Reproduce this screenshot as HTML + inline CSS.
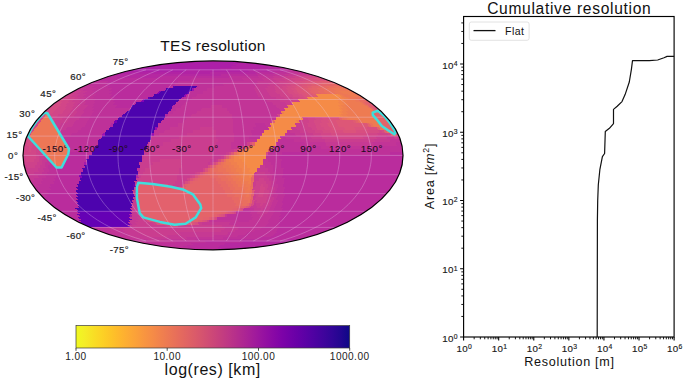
<!DOCTYPE html>
<html><head><meta charset="utf-8"><title>TES resolution</title>
<style>html,body{margin:0;padding:0;background:#fff}body{width:685px;height:381px;overflow:hidden;font-family:"Liberation Sans",sans-serif}svg{display:block}</style>
</head><body>
<svg width="685" height="381" viewBox="0 0 685 381" font-family="'Liberation Sans', sans-serif">
<defs><clipPath id="ec"><ellipse cx="213" cy="155.4" rx="190" ry="94.5"/></clipPath>
<linearGradient id="cb" x1="0" x2="1" y1="0" y2="0"><stop offset="0.0000" stop-color="#f0f921"/><stop offset="0.0312" stop-color="#f4ed27"/><stop offset="0.0625" stop-color="#f8df25"/><stop offset="0.0938" stop-color="#fcd225"/><stop offset="0.1250" stop-color="#fdc527"/><stop offset="0.1562" stop-color="#feb82c"/><stop offset="0.1875" stop-color="#fdac33"/><stop offset="0.2188" stop-color="#fba139"/><stop offset="0.2500" stop-color="#f89540"/><stop offset="0.2812" stop-color="#f58b47"/><stop offset="0.3125" stop-color="#f0804e"/><stop offset="0.3438" stop-color="#eb7655"/><stop offset="0.3750" stop-color="#e66c5c"/><stop offset="0.4062" stop-color="#e06363"/><stop offset="0.4375" stop-color="#da5a6a"/><stop offset="0.4688" stop-color="#d35171"/><stop offset="0.5000" stop-color="#cc4778"/><stop offset="0.5312" stop-color="#c43e7f"/><stop offset="0.5625" stop-color="#bc3587"/><stop offset="0.5938" stop-color="#b32c8e"/><stop offset="0.6250" stop-color="#aa2395"/><stop offset="0.6562" stop-color="#a01a9c"/><stop offset="0.6875" stop-color="#9511a1"/><stop offset="0.7188" stop-color="#8a09a5"/><stop offset="0.7500" stop-color="#7e03a8"/><stop offset="0.7812" stop-color="#7201a8"/><stop offset="0.8125" stop-color="#6600a7"/><stop offset="0.8438" stop-color="#5901a5"/><stop offset="0.8750" stop-color="#4c02a1"/><stop offset="0.9062" stop-color="#3f049c"/><stop offset="0.9375" stop-color="#310597"/><stop offset="0.9688" stop-color="#220690"/><stop offset="1.0000" stop-color="#0d0887"/></linearGradient>
</defs>
<rect width="685" height="381" fill="#fff"/>
<ellipse cx="213" cy="155.4" rx="190" ry="94.5" fill="#b82a9f"/>
<g fill="none" stroke-width="1" shape-rendering="crispEdges" transform="translate(0,0.5)" clip-path="url(#ec)">
<path stroke="#4d03ae" d="M175 86h22M174 87h22M166 88h26M166 89h26M165 90h27M161 91h27M160 92h27M159 93h28M154 94h31M154 95h30M153 96h31M150 97h32M150 98h31M145 99h34M144 100h35M144 101h34M136 102h40M136 103h40M135 104h40M132 105h41M132 106h40M131 107h41M131 108h38M130 109h39M129 110h40M127 111h42M126 112h42M125 113h43M125 114h40M124 115h41M124 116h41M119 117h43M118 118h44M118 119h44M117 120h45M117 121h44M117 122h44M114 123h44M113 124h45M113 125h45M113 126h45M110 127h45M109 128h46M109 129h46M106 130h48M106 131h48M105 132h49M105 133h46M105 134h46M105 135h46M102 136h49M102 137h49M101 138h50M99 139h52M98 140h52M98 141h52M98 142h50M98 143h50M98 144h49M98 145h49M95 146h52M95 147h52M95 148h52M94 149h51M94 150h50M94 151h50M92 152h52M92 153h52M92 154h52M89 155h53M89 156h53M89 157h53M89 158h53M86 159h56M87 160h55M87 161h55M87 162h52M87 163h52M87 164h52M84 165h56M85 166h55M85 167h55M82 168h55M83 169h54M83 170h54M83 171h55M81 172h57M81 173h57M81 174h57M81 175h55M82 176h54M82 177h54M80 178h56M80 179h56M81 180h56M79 181h55M79 182h56M79 183h56M77 184h56M78 185h55M78 186h55M76 187h58M77 188h57M78 189h56M76 190h56M76 191h57M77 192h56M78 193h55M76 194h55M77 195h55M78 196h54M76 197h57M77 198h56M78 199h56M76 200h56M77 201h55M78 202h55M77 203h54M78 204h54M79 205h53M78 206h53M79 207h53M75 208h55M77 209h54M78 210h54"/>
<path stroke="#5203b0" d="M169 108h3M169 109h2M169 110h2M123 114h2M122 115h2M122 116h2M162 117h3M162 118h2M162 119h2"/>
<path stroke="#5802b2" d="M131 194h3M132 195h2M132 196h3"/>
<path stroke="#5f01b3" d="M173 86h2M173 87h1M188 91h2M187 92h2M187 93h2M133 184h2M133 185h2M133 186h3"/>
<path stroke="#6501b5" d="M148 97h2M148 98h2M77 211h53M78 212h53M80 213h52M77 214h52M79 215h51M80 216h50M78 217h51M79 218h51M81 219h51M79 220h50M81 221h49M79 222h49M81 223h48M83 224h47M86 225h42M88 226h42"/>
<path stroke="#7600b7" d="M115 120h2M114 121h3M114 122h3"/>
<path stroke="#8202b7" d="M143 99h2M142 100h2M141 101h3M79 175h2M79 176h3M80 177h2"/>
<path stroke="#8804b6" d="M159 91h2M158 92h2M157 93h2"/>
<path stroke="#920ab4" d="M185 94h2M184 95h2M184 96h2"/>
<path stroke="#980eb2" d="M155 127h3M155 128h2M155 129h2M151 133h3M151 134h3M151 135h3"/>
<path stroke="#9d13b0" d="M192 88h2M192 89h2M192 90h2M103 133h2M102 134h3M102 135h3"/>
<path stroke="#a81baa" d="M84 162h3M84 163h3M84 164h3M129 214h2M130 215h2M130 216h2"/>
<path stroke="#ac1fa8" d="M192 61h42M178 62h66M169 63h69M161 64h72M154 65h82M149 66h82M143 67h89M138 68h82M134 69h87M130 70h56M126 71h59"/>
<path stroke="#b123a4" d="M244 62h4M238 63h19M233 64h31M236 65h35M231 66h33M232 67h36M220 68h40M221 69h41M186 70h62M185 71h64M122 72h88M118 73h92M182 97h2M181 98h3M136 175h2M136 176h2M136 177h3"/>
<path stroke="#b528a1" d="M264 64h1M271 65h1M264 66h13M268 67h15M260 68h19M262 69h21M248 70h22M249 71h24M210 72h45M210 73h46M115 74h106M112 75h109M120 76h41M117 77h42M165 88h1M164 89h2M163 90h2M165 114h3M165 115h3M165 116h2M111 123h3M111 124h2M110 125h3M110 126h3M288 239h12M284 240h12M243 241h48M242 242h45M225 243h57M224 244h52M220 245h50M219 246h45M218 247h38M218 248h28M219 249h11"/>
<path stroke="#ba2c9d" d="M279 68h9M283 69h9M270 70h15M273 71h15M255 72h18M256 73h19M221 74h36M221 75h37M108 76h12M161 76h68M105 77h12M159 77h70M104 78h88M101 79h90M99 80h91M108 81h70M106 82h72M110 83h65M108 84h67M106 85h68M110 86h61M197 86h2M108 87h63M196 87h2M112 88h53M111 89h53M109 90h54M112 91h47M111 92h47M109 93h48M112 94h42M111 95h43M110 96h43M113 97h35M112 98h36M115 99h28M114 100h28M113 101h28M115 102h21M114 103h22M113 104h22M117 105h15M173 105h2M116 106h16M172 106h3M115 107h16M172 107h2M76 149h8M76 150h8M76 151h8M69 152h17M282 152h26M390 152h13M68 153h18M282 153h26M390 153h13M68 154h18M282 154h26M390 154h13M68 155h21M279 155h124M67 156h22M279 156h124M67 157h22M279 157h124M66 158h23M279 158h124M66 159h20M282 159h121M65 160h22M282 160h121M65 161h22M281 161h122M64 162h20M281 162h121M64 163h20M281 163h121M63 164h21M281 164h121M63 165h21M281 165h121M62 166h23M281 166h121M62 167h23M281 167h120M56 168h26M284 168h117M56 169h27M283 169h118M57 170h26M283 170h118M57 171h26M283 171h117M57 172h24M283 172h117M58 173h23M283 173h116M58 174h23M283 174h116M56 175h23M283 175h116M56 176h23M282 176h116M56 177h24M282 177h116M54 178h26M285 178h112M55 179h25M284 179h113M55 180h26M284 180h112M53 181h26M284 181h112M54 182h25M284 182h111M54 183h25M284 183h110M50 184h27M283 184h111M50 185h28M283 185h110M51 186h27M283 186h109M49 187h27M285 187h107M50 188h27M285 188h106M51 189h27M284 189h106M46 190h30M284 190h105M47 191h29M284 191h105M48 192h29M283 192h105M49 193h29M283 193h104M45 194h31M285 194h101M46 195h31M285 195h100M47 196h31M284 196h100M43 197h33M284 197h99M44 198h33M283 198h99M45 199h33M283 199h98M46 200h30M283 200h97M47 201h30M282 201h97M48 202h30M282 202h96M49 203h28M283 203h94M51 204h27M283 204h92M52 205h27M282 205h92M53 206h25M282 206h91M54 207h25M281 207h91M56 208h19M283 208h87M57 209h20M282 209h87M59 210h19M282 210h85M60 211h17M281 211h85M62 212h16M280 212h84M63 213h17M280 213h83M65 214h12M281 214h80M66 215h13M280 215h80M68 216h12M279 216h79M70 217h8M281 217h75M72 218h7M280 218h74M73 219h8M279 219h74M75 220h4M280 220h71M77 221h4M279 221h70M128 222h1M280 222h67M129 223h2M279 223h66M130 224h2M278 224h65M280 225h60M279 226h59M280 227h56M278 228h55M277 229h54M277 230h51M276 231h50M277 232h46M275 233h45M274 234h43M273 235h41M271 236h40M260 237h47M258 238h45M230 239h58M229 240h55M205 241h38M206 242h36M191 243h34M193 244h31M187 245h33M183 246h36M188 247h30M185 248h33M196 249h23"/>
<path stroke="#be3199" d="M285 70h11M288 71h12M273 72h13M275 73h14M257 74h16M258 75h17M229 76h29M229 77h30M103 78h1M192 78h50M100 79h1M191 79h52M97 80h2M190 80h54M95 81h13M178 81h53M92 82h14M178 82h53M93 83h17M175 83h48M91 84h17M175 84h48M89 85h17M174 85h50M94 86h16M171 86h2M199 86h16M92 87h16M171 87h2M198 87h17M96 88h16M194 88h13M94 89h17M194 89h13M92 90h17M194 90h13M94 91h18M190 91h13M93 92h18M189 92h14M91 93h18M189 93h14M96 94h16M187 94h10M95 95h16M186 95h11M93 96h17M186 96h10M94 97h19M184 97h8M93 98h19M184 98h8M96 99h19M179 99h11M95 100h19M179 100h10M94 101h19M178 101h11M95 102h20M176 102h9M94 103h20M176 103h8M93 104h20M175 104h9M94 105h23M175 105h7M93 106h23M175 106h6M92 107h23M174 107h7M94 108h37M172 108h4M93 109h37M171 109h5M92 110h37M171 110h5M94 111h33M169 111h4M93 112h33M168 112h5M92 113h33M168 113h5M92 114h31M91 115h31M90 116h32M90 117h29M89 118h29M89 119h29M88 120h27M87 121h27M87 122h27M86 123h25M255 123h10M86 124h25M255 124h10M85 125h25M256 125h10M85 126h25M256 126h10M82 127h28M253 127h15M81 128h28M253 128h16M81 129h28M254 129h15M78 130h28M251 130h13M78 131h28M251 131h13M77 132h28M251 132h13M72 133h31M252 133h10M71 134h31M252 134h10M71 135h31M252 135h10M63 136h39M249 136h11M283 136h2M63 137h39M249 137h11M283 137h3M63 138h38M249 138h11M283 138h3M63 139h36M278 139h16M64 140h34M278 140h16M64 141h34M278 141h16M65 142h33M276 142h28M396 142h5M66 143h32M276 143h29M396 143h5M66 144h32M276 144h29M396 144h6M67 145h31M276 145h29M397 145h5M67 146h28M273 146h48M379 146h23M68 147h27M273 147h48M379 147h23M69 148h26M274 148h47M379 148h23M69 149h7M84 149h10M271 149h132M69 150h7M84 150h10M271 150h132M69 151h7M84 151h10M271 151h132M86 152h6M268 152h14M308 152h82M86 153h6M268 153h14M308 153h82M86 154h6M268 154h14M308 154h82M266 155h13M266 156h13M266 157h13M266 158h13M268 159h14M268 160h14M50 161h1M268 161h13M50 162h2M271 162h10M50 163h3M271 163h10M50 164h4M271 164h10M48 165h7M273 165h8M48 166h8M273 166h8M48 167h8M273 167h8M48 168h8M137 168h3M273 168h11M49 169h7M137 169h3M273 169h10M49 170h8M137 170h3M273 170h10M49 171h8M138 171h2M273 171h10M47 172h10M275 172h8M47 173h11M275 173h8M48 174h10M275 174h8M45 175h11M275 175h8M46 176h10M275 176h7M46 177h10M275 177h7M42 178h12M277 178h8M42 179h13M277 179h7M43 180h12M277 180h7M41 181h12M276 181h8M41 182h13M276 182h8M42 183h12M276 183h8M37 184h13M278 184h5M38 185h12M278 185h5M39 186h12M278 186h5M34 187h15M278 187h7M35 188h15M277 188h8M36 189h15M277 189h7M37 190h9M277 190h7M37 191h10M276 191h8M38 192h10M276 192h7M39 193h10M276 193h7M40 194h5M278 194h7M41 195h5M278 195h7M42 196h5M277 196h7M277 197h7M276 198h7M276 199h7M278 200h5M278 201h4M277 202h5M277 203h6M276 204h7M276 205h6M275 206h7M275 207h6M244 208h6M274 208h9M243 209h7M274 209h8M243 210h6M273 210h9M236 211h15M275 211h6M236 212h15M274 212h6M236 213h14M273 213h7M227 214h25M273 214h8M227 215h25M272 215h8M227 216h24M271 216h8M217 217h36M271 217h10M217 218h35M270 218h10M217 219h35M269 219h10M238 220h11M268 220h12M238 221h11M268 221h11M269 222h11M268 223h11M267 224h11M266 225h14M265 226h14M90 227h17M262 227h18M93 228h16M261 228h17M95 229h16M260 229h17M98 230h11M255 230h22M100 231h11M254 231h22M103 232h5M247 232h30M106 233h4M246 233h29M109 234h4M245 234h29M238 235h35M237 236h34M223 237h37M223 238h35M195 239h35M196 240h33M135 241h1M174 241h31M139 242h1M176 242h30M144 243h47M150 244h43M156 245h31M162 246h21M170 247h18M180 248h5"/>
<path stroke="#c23497" d="M286 72h13M289 73h14M273 74h12M275 75h13M258 76h15M259 77h15M242 78h20M243 79h20M244 80h20M231 81h26M231 82h27M90 83h3M223 83h33M87 84h4M223 84h34M85 85h4M224 85h33M85 86h9M215 86h40M83 87h9M215 87h40M86 88h10M207 88h47M84 89h10M207 89h48M83 90h9M207 90h48M87 91h7M203 91h53M85 92h8M203 92h53M83 93h8M203 93h54M86 94h10M197 94h60M84 95h11M197 95h61M83 96h10M196 96h62M86 97h8M192 97h69M84 98h9M192 98h69M87 99h9M190 99h76M86 100h9M189 100h78M85 101h9M189 101h78M86 102h9M185 102h87M85 103h9M184 103h89M84 104h9M184 104h89M88 105h6M182 105h29M222 105h54M87 106h6M181 106h30M222 106h54M86 107h6M181 107h30M222 107h55M85 108h9M176 108h26M227 108h52M84 109h9M176 109h25M227 109h53M83 110h9M176 110h25M227 110h53M84 111h10M173 111h24M229 111h52M84 112h9M173 112h24M229 112h52M83 113h9M173 113h23M230 113h52M82 114h10M168 114h24M232 114h45M81 115h10M168 115h23M232 115h46M81 116h9M167 116h24M232 116h46M80 117h10M165 117h21M232 117h44M79 118h10M164 118h22M232 118h44M79 119h10M164 119h22M233 119h43M76 120h12M162 120h22M233 120h39M75 121h12M161 121h22M233 121h39M74 122h13M161 122h22M233 122h39M74 123h12M158 123h20M233 123h22M265 123h5M73 124h13M158 124h20M233 124h22M265 124h5M73 125h12M158 125h20M233 125h23M266 125h5M72 126h13M158 126h20M233 126h23M266 126h5M67 127h15M158 127h12M233 127h20M66 128h15M157 128h13M233 128h20M66 129h15M157 129h13M233 129h21M60 130h18M154 130h11M233 130h18M287 130h2M60 131h18M154 131h10M233 131h18M287 131h3M59 132h18M154 132h10M233 132h18M287 132h3M60 133h12M154 133h5M234 133h18M285 133h10M60 134h11M154 134h5M234 134h18M285 134h10M61 135h10M154 135h5M234 135h18M285 135h11M61 136h2M234 136h15M280 136h3M285 136h16M62 137h1M234 137h15M280 137h3M286 137h15M234 138h15M281 138h2M286 138h15M234 139h23M294 139h15M390 139h10M234 140h23M294 140h15M390 140h11M234 141h23M294 141h16M390 141h11M231 142h16M304 142h21M372 142h24M231 143h16M305 143h21M373 143h23M231 144h16M305 144h21M373 144h23M231 145h16M305 145h21M373 145h24M231 146h8M321 146h58M231 147h8M321 147h58M231 148h8M321 148h58M47 157h1M47 158h2M47 159h3M263 159h5M47 160h3M263 160h5M47 161h3M263 161h5M45 162h5M263 162h8M45 163h5M263 163h8M45 164h5M263 164h8M45 165h3M265 165h8M45 166h3M265 166h8M46 167h2M265 167h8M43 168h5M268 168h5M43 169h6M268 169h5M44 170h5M268 170h5M44 171h5M268 171h5M42 172h5M270 172h5M42 173h5M270 173h5M42 174h6M270 174h5M38 175h7M272 175h3M38 176h8M272 176h3M39 177h7M272 177h3M34 178h8M272 178h5M34 179h8M272 179h5M35 180h8M272 180h5M30 181h11M274 181h2M31 182h10M274 182h2M32 183h10M273 183h3M32 184h5M273 184h5M33 185h5M273 185h5M34 186h5M273 186h5M275 187h3M275 188h2M275 189h2M274 190h3M274 191h2M274 192h2M273 193h3M273 194h5M273 195h5M272 196h5M274 197h3M274 198h2M274 199h2M273 200h5M273 201h5M272 202h5M272 203h5M272 204h4M271 205h5M271 206h4M270 207h5M250 208h4M270 208h4M250 209h4M269 209h5M249 210h5M269 210h4M251 211h7M268 211h7M251 212h6M268 212h6M250 213h7M267 213h6M252 214h8M264 214h9M252 215h8M264 215h8M251 216h8M263 216h8M253 217h18M252 218h18M252 219h17M209 220h29M249 220h19M209 221h29M249 221h19M230 222h39M229 223h39M229 224h38M236 225h30M236 226h29M107 227h14M239 227h23M109 228h14M238 228h23M111 229h14M238 229h22M109 230h14M235 230h20M111 231h14M235 231h19M108 232h16M228 232h19M110 233h17M228 233h18M113 234h16M227 234h18M112 235h16M214 235h24M115 236h15M214 236h23M119 237h13M186 237h37M123 238h12M187 238h36M126 239h22M161 239h34M130 240h21M164 240h32M136 241h38M140 242h36"/>
<path stroke="#c63993" d="M299 72h5M303 73h5M285 74h11M288 75h11M273 76h10M274 77h11M262 78h11M263 79h11M264 80h12M257 81h14M258 82h14M256 83h12M257 84h12M257 85h13M83 86h2M255 86h12M81 87h2M255 87h13M79 88h7M254 88h11M77 89h7M255 89h11M75 90h8M255 90h12M81 91h6M256 91h11M79 92h6M256 92h12M77 93h6M257 93h12M80 94h6M257 94h12M78 95h6M258 95h12M77 96h6M258 96h13M80 97h6M261 97h15M78 98h6M261 98h15M81 99h6M266 99h13M80 100h6M267 100h13M79 101h6M267 101h13M80 102h6M272 102h13M78 103h7M273 103h13M77 104h7M273 104h13M81 105h7M211 105h11M276 105h11M80 106h7M211 106h11M276 106h12M79 107h7M211 107h11M277 107h11M78 108h7M202 108h25M279 108h5M77 109h7M201 109h26M280 109h5M76 110h7M201 110h26M280 110h5M77 111h7M197 111h32M77 112h7M197 112h32M76 113h7M196 113h34M75 114h7M192 114h40M74 115h7M191 115h41M74 116h7M191 116h41M70 117h10M186 117h46M70 118h9M186 118h46M69 119h10M186 119h47M68 120h8M184 120h49M68 121h7M183 121h50M67 122h7M183 122h50M61 123h13M178 123h55M61 124h12M178 124h55M60 125h13M178 125h55M60 126h12M178 126h55M56 127h11M170 127h30M213 127h20M291 127h5M57 128h9M170 128h30M213 128h20M291 128h5M57 129h9M170 129h30M213 129h20M292 129h5M58 130h2M165 130h28M216 130h17M289 130h11M58 131h2M164 131h29M216 131h17M290 131h10M164 132h29M216 132h17M290 132h10M159 133h28M216 133h18M295 133h10M159 134h28M216 134h18M295 134h11M159 135h28M216 135h18M296 135h10M151 136h28M216 136h18M301 136h10M386 136h8M397 136h2M151 137h28M216 137h18M301 137h10M387 137h7M397 137h3M151 138h28M216 138h18M301 138h11M387 138h8M397 138h3M151 139h20M218 139h16M309 139h16M374 139h16M150 140h21M218 140h16M309 140h16M375 140h15M150 141h21M218 141h16M310 141h15M375 141h15M148 142h15M216 142h15M325 142h47M148 143h15M216 143h15M326 143h47M147 144h16M216 144h15M326 144h47M147 145h16M216 145h15M326 145h47M147 146h11M216 146h15M239 146h3M147 147h11M216 147h15M239 147h3M147 148h11M216 148h15M239 148h3M145 149h7M216 149h18M144 150h8M216 150h18M144 151h8M216 151h18M144 152h3M213 152h13M144 153h3M213 153h13M44 154h1M144 154h3M213 154h13M44 155h2M142 155h2M213 155h8M44 156h3M142 156h2M213 156h8M44 157h3M142 157h2M213 157h8M44 158h3M142 158h2M213 158h8M42 159h5M210 159h6M42 160h5M210 160h6M42 161h5M210 161h6M42 162h3M208 162h2M42 163h3M208 163h2M42 164h3M208 164h2M40 165h5M260 165h5M40 166h5M260 166h5M40 167h6M260 167h5M38 168h5M257 168h11M38 169h5M257 169h11M38 170h6M257 170h11M39 171h5M257 171h11M34 172h8M255 172h2M265 172h5M34 173h8M254 173h3M265 173h5M35 174h7M254 174h3M265 174h5M27 175h11M267 175h5M28 176h10M267 176h5M28 177h11M267 177h5M29 178h5M269 178h3M29 179h5M269 179h3M30 180h5M269 180h3M271 181h3M271 182h3M271 183h2M271 184h2M271 185h2M270 186h3M273 187h2M272 188h3M272 189h3M272 190h2M272 191h2M271 192h3M271 193h2M271 194h2M270 195h3M270 196h2M270 197h4M269 198h5M269 199h5M271 200h2M271 201h2M270 202h2M254 203h2M270 203h2M254 204h2M269 204h3M253 205h3M269 205h2M131 206h2M251 206h6M266 206h5M132 207h2M250 207h7M266 207h4M130 208h4M254 208h7M263 208h7M131 209h4M254 209h7M263 209h6M132 210h4M254 210h6M262 210h7M130 211h7M258 211h10M131 212h6M257 212h11M132 213h6M257 213h10M131 214h6M225 214h2M260 214h4M132 215h6M225 215h2M260 215h4M132 216h7M225 216h2M259 216h4M129 217h8M130 218h8M132 219h7M129 220h7M130 221h8M129 222h6M202 222h28M131 223h5M202 223h27M132 224h5M202 224h27M128 225h5M222 225h14M130 226h5M222 226h14M121 227h12M225 227h14M123 228h11M225 228h13M125 229h11M224 229h14M123 230h13M221 230h14M125 231h13M221 231h14M124 232h14M179 232h49M127 233h13M180 233h48M129 234h13M181 234h46M128 235h16M167 235h47M130 236h17M168 236h46M132 237h54M135 238h52M148 239h13M151 240h13"/>
<path stroke="#ca3d8f" d="M296 74h11M299 75h11M283 76h10M285 77h10M273 78h9M274 79h10M276 80h9M271 81h8M272 82h8M268 83h8M269 84h9M270 85h9M267 86h7M268 87h7M265 88h10M266 89h9M267 90h9M75 91h6M267 91h8M73 92h6M268 92h8M71 93h6M269 93h8M74 94h6M269 94h11M72 95h6M270 95h10M71 96h6M271 96h10M75 97h5M276 97h8M74 98h4M276 98h9M75 99h6M279 99h11M73 100h7M280 100h10M72 101h7M280 101h11M75 102h5M285 102h7M74 103h4M286 103h6M73 104h4M286 104h7M74 105h7M73 106h7M72 107h7M73 108h5M72 109h5M71 110h5M70 111h7M70 112h7M69 113h7M68 114h7M67 115h7M66 116h8M63 117h7M62 118h8M62 119h7M56 120h12M299 120h2M55 121h13M299 121h3M55 122h12M300 122h2M54 123h7M295 123h7M54 124h7M295 124h8M55 125h5M296 125h7M55 126h5M296 126h7M200 127h13M296 127h8M200 128h13M296 128h8M200 129h13M297 129h7M193 130h23M300 130h7M193 131h23M300 131h7M193 132h23M300 132h8M187 133h29M305 133h8M187 134h29M306 134h7M187 135h29M306 135h8M179 136h37M311 136h11M376 136h10M179 137h37M311 137h11M376 137h11M179 138h37M312 138h10M377 138h10M171 139h47M325 139h49M171 140h47M325 140h50M171 141h47M325 141h50M163 142h53M163 143h53M163 144h53M163 145h53M158 146h58M158 147h58M158 148h58M152 149h64M152 150h64M42 151h1M152 151h64M42 152h2M147 152h66M226 152h3M42 153h2M147 153h66M226 153h3M41 154h3M147 154h66M226 154h3M39 155h5M144 155h69M221 155h3M39 156h5M144 156h69M221 156h3M39 157h5M144 157h69M221 157h3M39 158h5M144 158h69M221 158h3M39 159h3M142 159h18M181 159h29M216 159h2M39 160h3M142 160h18M181 160h29M216 160h2M39 161h3M142 161h18M181 161h29M216 161h2M37 162h5M139 162h13M181 162h27M210 162h3M37 163h5M139 163h14M181 163h27M210 163h3M37 164h5M139 164h14M181 164h27M210 164h3M24 165h3M35 165h5M140 165h10M182 165h26M24 166h3M35 166h5M140 166h10M182 166h26M25 167h2M35 167h5M140 167h10M182 167h26M25 168h13M140 168h5M179 168h24M25 169h13M140 169h5M179 169h24M25 170h13M140 170h5M179 170h24M26 171h13M140 171h5M179 171h24M26 172h8M138 172h5M179 172h16M257 172h8M27 173h7M138 173h5M179 173h16M257 173h8M27 174h8M138 174h5M179 174h16M257 174h8M138 175h3M177 175h13M254 175h13M138 176h3M177 176h13M254 176h13M139 177h2M177 177h13M254 177h13M136 178h3M177 178h10M254 178h5M264 178h5M136 179h3M177 179h10M254 179h5M264 179h5M137 180h2M177 180h11M254 180h5M264 180h5M134 181h5M175 181h8M254 181h2M266 181h5M135 182h5M175 182h8M253 182h3M266 182h5M135 183h3M175 183h8M253 183h3M266 183h5M135 184h3M173 184h10M253 184h3M268 184h3M135 185h2M173 185h10M253 185h3M268 185h3M136 186h1M173 186h10M253 186h2M268 186h2M134 187h2M268 187h5M134 188h2M267 188h5M134 189h3M267 189h5M132 190h5M269 190h3M133 191h4M269 191h3M133 192h4M269 192h2M133 193h4M269 193h2M134 194h2M254 194h2M268 194h3M134 195h3M254 195h2M268 195h2M135 196h2M253 196h3M268 196h2M133 197h4M253 197h3M267 197h3M133 198h4M253 198h2M267 198h2M134 199h3M253 199h2M267 199h2M132 200h4M255 200h2M266 200h5M132 201h5M254 201h3M266 201h5M133 202h5M254 202h2M266 202h4M131 203h7M256 203h5M263 203h7M132 204h6M256 204h4M263 204h6M132 205h6M256 205h4M262 205h7M133 206h5M257 206h9M134 207h4M257 207h9M134 208h5M261 208h2M135 209h4M261 209h2M136 210h3M260 210h2M137 211h2M137 212h2M138 213h2M137 214h2M138 215h2M139 216h2M137 217h4M138 218h4M139 219h4M136 220h10M138 221h9M135 222h17M198 222h4M136 223h17M198 223h4M137 224h17M199 224h3M133 225h32M178 225h44M135 226h31M178 226h44M133 227h92M134 228h91M136 229h88M136 230h85M138 231h83M138 232h41M140 233h40M142 234h39M144 235h23M147 236h21"/>
<path stroke="#ce428b" d="M307 74h4M310 75h4M293 76h9M295 77h9M282 78h9M284 79h9M285 80h10M279 81h8M280 82h9M276 83h7M278 84h7M279 85h7M274 86h8M275 87h8M275 88h5M275 89h6M276 90h6M73 91h2M275 91h8M71 92h2M276 92h8M69 93h2M277 93h8M68 94h6M280 94h6M66 95h6M280 95h6M64 96h7M281 96h6M69 97h6M284 97h8M68 98h6M285 98h8M70 99h5M290 99h8M69 100h4M290 100h9M68 101h4M291 101h9M69 102h6M67 103h7M66 104h7M67 105h7M66 106h7M65 107h7M66 108h7M65 109h7M64 110h7M63 111h7M63 112h7M62 113h7M58 114h10M58 115h9M57 116h9M53 117h10M302 117h5M53 118h9M303 118h5M52 119h10M303 119h5M52 120h4M301 120h8M52 121h3M302 121h7M53 122h2M302 122h7M302 123h5M303 124h5M303 125h5M303 126h5M304 127h7M304 128h8M304 129h8M307 130h8M307 131h8M308 132h7M313 133h8M377 133h11M313 134h8M378 134h10M314 135h7M378 135h10M322 136h15M363 136h13M394 136h3M322 137h15M363 137h13M394 137h3M322 138h16M364 138h13M395 138h2M247 142h3M247 143h3M247 144h3M37 145h1M247 145h3M37 146h1M37 147h2M37 148h3M37 149h4M234 149h3M36 150h6M234 150h3M36 151h6M234 151h3M36 152h6M36 153h6M36 154h5M23 155h3M36 155h3M23 156h3M36 156h3M23 157h3M36 157h3M23 158h3M36 158h3M23 159h3M34 159h5M160 159h21M23 160h3M34 160h5M160 160h21M23 161h3M34 161h5M160 161h21M24 162h13M152 162h29M24 163h13M153 163h28M24 164h13M153 164h28M27 165h8M150 165h32M27 166h8M150 166h32M27 167h8M150 167h32M145 168h34M145 169h34M145 170h34M145 171h34M143 172h36M195 172h2M143 173h36M195 173h2M143 174h36M195 174h2M141 175h36M190 175h2M141 176h36M190 176h2M141 177h36M190 177h2M139 178h38M259 178h5M139 179h38M259 179h5M139 180h38M259 180h5M139 181h36M183 181h2M256 181h10M140 182h35M183 182h2M256 182h10M147 183h28M183 183h2M256 183h10M168 184h5M256 184h5M263 184h5M168 185h5M256 185h5M263 185h5M170 186h3M255 186h5M263 186h5M253 187h7M265 187h3M253 188h7M265 188h2M252 189h8M265 189h2M255 190h5M264 190h5M254 191h5M264 191h5M254 192h5M264 192h5M254 193h5M264 193h5M256 194h3M263 194h5M256 195h2M263 195h5M256 196h2M263 196h5M256 197h11M255 198h12M255 199h12M257 200h9M257 201h9M256 202h10M261 203h2M260 204h3M260 205h2M207 220h2M207 221h2M152 222h3M153 223h3M154 224h3M165 225h2M166 226h2"/>
<path stroke="#d24688" d="M302 76h10M304 77h11M291 78h8M293 79h8M295 80h8M287 81h7M289 82h6M283 83h5M285 84h5M286 85h5M282 86h5M283 87h5M280 88h6M281 89h6M282 90h6M283 91h4M284 92h4M285 93h4M286 94h6M286 95h7M287 96h6M63 97h6M292 97h7M61 98h7M293 98h6M64 99h6M63 100h6M61 101h7M62 102h7M61 103h6M60 104h6M61 105h6M59 106h7M58 107h7M57 108h9M56 109h9M55 110h9M54 111h9M53 112h10M52 113h10M48 114h10M277 114h3M49 115h9M278 115h2M49 116h8M278 116h2M39 117h5M50 117h3M307 117h8M38 118h5M51 118h2M308 118h7M37 119h5M51 119h1M308 119h8M36 120h5M309 120h5M36 121h5M309 121h5M35 122h5M309 122h5M34 123h5M307 123h8M33 124h5M308 124h7M33 125h5M308 125h8M32 126h5M308 126h8M31 127h5M311 127h5M31 128h4M312 128h5M30 129h4M312 129h5M30 130h4M315 130h7M378 130h3M29 131h4M315 131h8M379 131h3M29 132h3M315 132h8M379 132h3M28 133h3M321 133h10M367 133h10M388 133h2M28 134h3M321 134h10M367 134h11M388 134h3M27 135h3M321 135h11M368 135h10M388 135h3M27 136h3M337 136h26M26 137h5M337 137h26M26 138h6M338 138h26M26 139h2M25 140h3M25 141h3M33 141h1M25 142h2M33 142h2M25 143h2M32 143h4M24 144h3M32 144h5M24 145h3M32 145h5M24 146h5M32 146h5M242 146h3M24 147h5M32 147h5M242 147h3M24 148h5M31 148h6M242 148h3M23 149h6M31 149h6M23 150h6M31 150h5M23 151h5M31 151h5M23 152h13M229 152h2M23 153h13M229 153h2M23 154h13M229 154h2M26 155h10M26 156h10M26 157h10M26 158h10M26 159h8M26 160h8M26 161h8M203 168h2M203 169h2M203 170h2M203 171h2M197 172h3M197 173h3M197 174h3M192 175h3M192 176h3M192 177h3M187 178h3M187 179h3M188 180h2M261 184h2M261 185h2M260 186h3M260 187h5M260 188h5M260 189h5M260 190h4M259 191h5M259 192h5M259 193h5M259 194h4M258 195h5M258 196h5M234 211h2M234 212h2M234 213h2M167 225h2M168 226h2"/>
<path stroke="#d54b84" d="M312 76h6M315 77h6M299 78h8M301 79h8M303 80h8M294 81h6M295 82h7M288 83h5M290 84h5M291 85h5M287 86h5M288 87h6M286 88h5M287 89h5M288 90h6M287 91h6M288 92h6M289 93h6M292 94h6M293 95h6M293 96h7M299 97h4M299 98h5M60 99h4M58 100h5M57 101h4M56 102h6M54 103h7M53 104h7M52 105h9M50 106h9M49 107h9M48 108h9M47 109h9M46 110h9M45 111h9M379 111h2M44 112h9M380 112h2M43 113h4M48 113h4M381 113h2M42 114h4M41 115h4M40 116h5M315 117h7M315 118h7M316 119h7M314 120h7M314 121h7M314 122h8M315 123h5M315 124h5M316 125h5M316 126h5M316 127h8M317 128h7M317 129h8M322 130h8M368 130h10M381 130h3M323 131h7M369 131h10M382 131h2M323 132h8M369 132h10M382 132h3M331 133h36M331 134h36M332 135h36M28 139h4M28 140h5M28 141h5M27 142h6M27 143h5M27 144h5M27 145h5M29 146h3M29 147h3M29 148h2M29 149h2M29 150h2M28 151h3M266 152h2M266 153h2M266 154h2M224 155h2M224 156h2M224 157h2M224 158h2M218 159h3M218 160h3M218 161h3M213 162h3M213 163h3M213 164h3M208 165h2M208 166h2M208 167h2M252 200h3M252 201h2M252 202h2M252 203h2M251 204h3M251 205h2M249 206h2M248 207h2M139 214h2M140 215h2M141 216h2M141 217h2M215 217h2M142 218h2M215 218h2M143 219h2M215 219h2M146 220h2M147 221h2"/>
<path stroke="#d84e81" d="M307 78h7M309 79h8M311 80h8M300 81h5M302 82h5M293 83h6M295 84h5M296 85h6M292 86h4M294 87h3M291 88h4M292 89h4M294 90h3M293 91h4M294 92h4M295 93h4M298 94h4M299 95h4M300 96h4M303 97h2M304 98h2M322 117h7M322 118h8M323 119h7M321 120h7M321 121h8M322 122h7M320 123h7M320 124h8M321 125h7M321 126h8M324 127h7M367 127h10M324 128h8M367 128h10M325 129h7M368 129h10M330 130h13M356 130h12M330 131h13M356 131h13M331 132h13M356 132h13M237 149h2M237 150h2M237 151h2M185 181h3M185 182h3M185 183h3M136 187h1M136 188h1M241 208h3M241 209h2M241 210h2M232 211h2M232 212h2M232 213h2M223 214h2M223 215h2M223 216h2M205 220h2M205 221h2M194 222h4M195 223h3M195 224h4M169 225h9M170 226h8"/>
<path stroke="#db537c" d="M314 78h9M317 79h9M319 80h10M305 81h7M307 82h7M299 83h5M300 84h5M302 85h5M296 86h5M297 87h6M295 88h6M296 89h6M297 90h6M297 91h5M298 92h6M299 93h6M302 94h4M303 95h4M304 96h4M305 97h2M306 98h2M376 108h2M377 109h2M378 110h2M382 114h2M384 115h1M385 116h1M329 117h10M330 118h9M330 119h10M328 120h8M329 121h7M329 122h8M327 123h10M328 124h10M328 125h10M329 126h10M331 127h13M354 127h13M332 128h13M355 128h12M332 129h13M355 129h13M343 130h13M343 131h13M344 132h12M395 133h3M396 134h2M396 135h3M250 142h2M250 143h2M250 144h2M250 145h2M205 168h3M205 169h3M205 170h3M205 171h3M200 172h3M200 173h3M200 174h3M195 175h3M195 176h3M195 177h3M190 178h3M190 179h3M190 180h3M163 184h5M163 185h5M136 194h1M136 200h1M137 201h1M138 207h1M239 208h2M239 209h2M239 210h2M230 211h2M139 212h1M230 212h2M230 213h2M221 214h2M221 215h2M221 216h2M143 217h1M213 217h2M144 218h2M213 218h2M145 219h2M213 219h2M148 220h2M203 220h2M149 221h2M204 221h1M155 222h4M193 222h1M156 223h4M193 223h2M157 224h4M193 224h2"/>
<path stroke="#dd5777" d="M312 81h8M314 82h8M304 83h5M305 84h6M307 85h5M301 86h6M303 87h5M301 88h3M302 89h4M303 90h4M302 91h4M304 92h4M305 93h4M306 94h6M307 95h6M308 96h6M372 105h2M373 106h3M375 107h2M373 108h3M374 109h3M376 110h2M336 120h17M336 121h17M337 122h17M337 123h30M338 124h30M338 125h30M339 126h30M344 127h10M345 128h10M345 129h10M245 146h2M245 147h2M245 148h2M231 152h3M231 153h3M231 154h3M216 162h2M216 163h2M216 164h2M210 165h3M210 166h3M210 167h3M188 181h2M188 182h2M188 183h2M158 184h5M183 184h2M183 185h2M183 186h3M246 206h3M246 207h2M228 211h2M228 212h2M228 213h2M219 214h2M219 215h2M219 216h2M211 217h2M211 218h2M211 219h2M150 220h2M202 220h1M151 221h2M202 221h2M159 222h4M189 222h4M160 223h4M189 223h4M161 224h3M190 224h3"/>
<path stroke="#e05c72" d="M320 81h8M322 82h9M309 83h7M311 84h7M312 85h8M307 86h4M308 87h4M304 88h4M306 89h3M307 90h4M306 91h4M308 92h3M309 93h4M312 94h4M313 95h4M314 96h4M370 105h2M371 106h2M372 107h3M353 120h2M353 121h3M354 122h2M268 149h3M268 150h3M268 151h3M226 155h3M226 156h3M226 157h3M226 158h3M221 159h3M221 160h3M221 161h3M203 172h2M203 173h2M203 174h2M198 175h2M198 176h2M198 177h2M193 178h2M193 179h2M193 180h2M157 184h1M174 187h7M178 188h3M252 190h3M252 191h2M252 192h2M252 193h2M249 203h3M249 204h2M249 205h2M237 208h2M237 209h2M237 210h2M226 211h2M226 212h2M225 213h3M217 214h2M217 215h2M217 216h2M209 217h2M146 218h1M209 218h2M147 219h2M209 219h2M152 220h3M198 220h4M153 221h3M198 221h4M188 222h1M164 223h4M186 223h3M164 224h6M181 224h9"/>
<path stroke="#e3616d" d="M328 81h3M331 82h3M316 83h5M318 84h5M320 85h5M311 86h5M312 87h6M308 88h4M309 89h4M311 90h4M310 91h4M311 92h4M313 93h4M366 102h4M367 103h5M369 104h4M368 105h2M369 106h2M370 107h2M272 120h2M272 121h3M272 122h3M377 127h2M377 128h3M378 129h2M384 130h2M384 131h3M385 132h2M252 142h3M252 143h3M252 144h3M252 145h3M208 168h2M208 169h2M208 170h2M208 171h2M200 175h3M200 176h3M200 177h3M195 178h3M195 179h3M195 180h3M190 181h3M190 182h3M138 183h9M190 183h3M138 184h19M185 184h3M137 185h26M185 185h3M137 186h33M186 186h2M137 187h37M181 187h5M137 188h41M181 188h5M137 189h49M137 190h48M137 191h50M137 192h52M137 193h54M137 194h56M251 194h3M137 195h57M251 195h3M137 196h58M251 196h2M137 197h58M137 198h59M137 199h60M137 200h60M138 201h60M138 202h61M138 203h62M138 204h62M138 205h63M138 206h63M244 206h2M139 207h62M244 207h2M139 208h62M233 208h4M139 209h61M232 209h5M139 210h61M232 210h5M139 211h60M221 211h5M140 212h59M221 212h5M140 213h58M221 213h4M141 214h56M213 214h4M142 215h55M213 215h4M143 216h53M213 216h4M144 217h52M203 217h6M147 218h47M203 218h6M149 219h43M203 219h6M155 220h43M156 221h33M190 221h8M163 222h25M168 223h18M170 224h11"/>
<path stroke="#e46469" d="M321 83h8M323 84h9M325 85h9M316 86h4M318 87h3M312 88h5M313 89h6M315 90h5M314 91h4M315 92h4M317 93h4M364 102h2M365 103h2M366 104h3M376 111h3M373 112h7M373 113h8M373 114h9M373 115h11M374 116h11M339 117h2M375 117h12M339 118h3M376 118h12M340 119h2M377 119h12M355 120h3M378 120h10M356 121h2M378 121h11M356 122h3M379 122h10M367 123h2M380 123h10M368 124h2M381 124h10M368 125h3M381 125h10M369 126h2M383 126h9M384 127h9M385 128h8M387 129h7M388 130h7M390 131h5M392 132h4M390 133h5M391 134h2M391 135h3M239 149h3M239 150h3M239 151h3M213 165h3M213 166h3M213 167h3M205 172h3M205 173h3M205 174h3M203 175h7M203 176h7M203 177h7M198 178h18M198 179h18M198 180h18M193 181h25M193 182h25M193 183h25M188 184h33M188 185h33M188 186h32M186 187h37M186 188h37M186 189h37M185 190h40M187 191h38M189 192h36M191 193h34M193 194h34M194 195h33M195 196h32M195 197h37M251 197h2M196 198h36M251 198h2M197 199h35M250 199h3M197 200h37M250 200h2M198 201h36M250 201h2M199 202h35M250 202h2M200 203h36M200 204h36M201 205h34M201 206h43M201 207h43M201 208h32M200 209h32M200 210h32M199 211h22M199 212h22M198 213h23M197 214h16M197 215h16M196 216h17M196 217h7M194 218h9M192 219h11M189 221h1"/>
<path stroke="#e76964" d="M329 83h7M332 84h7M334 85h7M320 86h7M321 87h8M317 88h4M319 89h4M320 90h4M318 91h6M319 92h6M321 93h6M362 99h4M363 100h5M365 101h4M371 108h2M372 109h2M373 110h3M395 130h1M395 131h2M396 132h1M218 162h3M218 163h3M218 164h3M210 168h3M210 169h3M210 170h3M210 171h3M208 172h8M208 173h8M208 174h8M210 175h8M210 176h8M210 177h8M216 178h5M251 178h3M216 179h5M251 179h3M216 180h5M251 180h3M218 181h8M218 182h8M218 183h8M221 184h7M221 185h7M220 186h8M223 187h7M223 188h7M223 189h7M225 190h8M225 191h8M225 192h7M225 193h7M227 194h8M227 195h8M227 196h7M232 197h7M232 198h7M232 199h7M234 200h7M234 201h7M234 202h6M236 203h7M247 203h2M236 204h6M247 204h2M235 205h7M247 205h2"/>
<path stroke="#e96e5f" d="M327 86h7M329 87h7M321 88h6M323 89h5M324 90h6M324 91h4M325 92h4M327 93h4M358 99h4M359 100h4M360 101h5M362 102h2M363 103h2M364 104h2M341 117h3M342 118h2M342 119h3M358 120h2M358 121h3M359 122h2M247 146h3M247 147h3M247 148h3M234 152h3M234 153h3M234 154h3M229 155h2M229 156h2M229 157h2M229 158h2M224 159h2M224 160h2M224 161h2M216 165h2M216 166h2M216 167h2M213 168h5M213 169h5M213 170h5M213 171h5M216 172h7M216 173h7M216 174h7M218 175h8M252 175h2M218 176h8M252 176h2M218 177h8M251 177h3M221 178h7M221 179h7M221 180h7M226 181h5M251 181h3M226 182h5M251 182h2M226 183h5M251 183h2M228 184h5M251 184h2M228 185h5M251 185h2M228 186h5M250 186h3M230 187h5M230 188h5M230 189h5M233 190h7M233 191h7M232 192h8M232 193h8M235 194h7M235 195h7M234 196h8M239 197h5M239 198h5M239 199h4M241 200h7M241 201h7M240 202h7M243 203h4M242 204h5M242 205h5"/>
<path stroke="#eb725b" d="M334 86h9M336 87h9M327 88h5M328 89h6M330 90h6M328 91h6M329 92h6M331 93h6M355 97h8M356 98h9M365 105h3M367 106h2M368 107h2M344 117h2M344 118h3M345 119h2M369 123h3M370 124h3M371 125h2M371 126h3M393 127h2M393 128h2M394 129h2M393 134h3M394 135h2M221 162h3M221 163h3M221 164h3M218 165h5M218 166h5M218 167h5M218 168h8M218 169h8M218 170h8M218 171h8M223 172h6M223 173h6M223 174h6M226 175h5M226 176h5M226 177h5M228 178h5M228 179h5M228 180h5M231 181h5M231 182h5M231 183h5M233 184h5M233 185h5M233 186h5M235 187h8M250 187h3M235 188h8M250 188h3M235 189h8M250 189h2M240 190h5M250 190h2M240 191h5M250 191h2M240 192h5M249 192h3M240 193h4M249 193h3M242 194h5M249 194h2M242 195h4M249 195h2M242 196h4M249 196h2M244 197h7M244 198h7M243 199h7M248 200h2M248 201h2M247 202h3"/>
<path stroke="#ed7756" d="M332 88h15M334 89h15M336 90h15M334 91h5M335 92h6M337 93h6M342 94h6M354 94h4M344 95h6M356 95h4M345 96h6M357 96h5M349 97h6M350 98h6M353 99h5M355 100h4M356 101h4M360 102h2M361 103h2M362 104h2M374 111h2M47 113h1M46 114h2M45 115h4M45 116h4M44 117h6M346 117h2M43 118h8M347 118h2M42 119h9M347 119h3M41 120h11M360 120h3M388 120h2M41 121h11M361 121h2M389 121h1M40 122h13M361 122h3M389 122h2M39 123h15M38 124h16M38 125h17M37 126h18M36 127h20M379 127h3M35 128h22M380 128h2M34 129h23M380 129h3M34 130h24M386 130h2M33 131h25M387 131h2M32 132h27M387 132h3M31 133h29M31 134h29M30 135h31M30 136h31M31 137h31M32 138h31M32 139h31M33 140h31M34 141h30M35 142h30M36 143h30M37 144h29M38 145h29M38 146h29M39 147h29M40 148h29M41 149h28M242 149h3M42 150h27M242 150h3M43 151h26M242 151h3M44 152h25M44 153h24M45 154h23M46 155h22M47 156h20M48 157h19M49 158h17M50 159h16M50 160h15M51 161h14M52 162h12M224 162h2M53 163h11M224 163h2M54 164h9M224 164h2M55 165h8M223 165h6M56 166h6M223 166h6M56 167h6M223 167h6M226 168h5M226 169h5M226 170h5M226 171h5M229 172h5M229 173h5M229 174h5M231 175h5M231 176h5M231 177h5M233 178h6M233 179h6M233 180h5M236 181h5M236 182h5M236 183h5M238 184h8M238 185h8M238 186h7M243 187h5M243 188h5M243 189h4M245 190h5M245 191h5M245 192h4M244 193h5M247 194h2M246 195h3M246 196h3"/>
<path stroke="#ee7b52" d="M339 91h14M341 92h14M343 93h14M340 94h2M348 94h6M342 95h2M350 95h6M343 96h2M351 96h6M346 97h3M348 98h2M345 99h8M346 100h9M347 101h9M346 102h14M348 103h13M349 104h13M345 105h20M346 106h21M347 107h21M346 108h25M347 109h25M348 110h25M346 111h28M347 112h26M348 113h25M346 114h27M347 115h26M348 116h26M348 117h27M349 118h27M350 119h27M363 120h15M363 121h15M364 122h15M372 123h8M390 123h2M373 124h8M391 124h2M373 125h8M391 125h2M374 126h9M392 126h2M382 127h2M382 128h3M383 129h4M389 131h1M390 132h2M237 152h2M237 153h2M237 154h2M231 155h3M231 156h3M231 157h3M231 158h3M226 159h3M226 160h3M226 161h3M226 162h5M226 163h5M226 164h5M229 165h5M229 166h5M229 167h5M231 168h6M231 169h5M231 170h5M231 171h5M234 172h5M234 173h5M234 174h5M236 175h5M236 176h5M236 177h5M239 178h5M239 179h5M238 180h6M241 181h8M241 182h7M241 183h7M246 184h5M246 185h5M245 186h5M248 187h2M248 188h2M247 189h3"/>
<path stroke="#f0804e" d="M338 94h2M340 95h2M341 96h2M342 97h4M344 98h4M341 99h4M342 100h4M343 101h4M342 102h4M343 103h5M344 104h5M287 105h2M341 105h4M288 106h2M342 106h4M288 107h2M343 107h4M341 108h5M342 109h5M343 110h5M281 111h2M342 111h4M281 112h3M342 112h5M282 113h2M343 113h5M341 114h5M342 115h5M343 116h5M296 120h3M297 121h2M297 122h3M250 146h2M271 146h2M250 147h2M271 147h2M250 148h2M271 148h3M229 159h5M229 160h5M229 161h5M231 162h6M231 163h6M231 164h6M234 165h5M234 166h5M234 167h5M237 168h5M236 169h6M236 170h6M236 171h6M239 172h5M239 173h5M239 174h5M241 175h8M241 176h8M241 177h8M244 178h7M244 179h7M244 180h7M249 181h2M248 182h3M248 183h3"/>
<path stroke="#f3854b" d="M338 97h4M339 98h5M336 99h5M338 100h4M339 101h4M338 102h4M339 103h4M340 104h4M338 105h3M339 106h3M340 107h3M339 108h2M340 109h2M341 110h2M339 111h3M340 112h2M341 113h2M339 114h2M340 115h2M340 116h3M245 149h2M245 150h2M245 151h2M239 152h3M239 153h3M239 154h3M234 155h5M234 156h5M234 157h5M234 158h5M234 159h8M234 160h8M234 161h8M237 162h8M237 163h8M237 164h8M239 165h8M239 166h8M239 167h8M242 168h8M242 169h8M242 170h7M242 171h7M244 172h8M244 173h8M244 174h8M249 175h3M249 176h3M249 177h2"/>
<path stroke="#f58b47" d="M316 94h22M317 95h23M318 96h23M307 97h31M308 98h31M298 99h38M299 100h39M300 101h39M292 102h46M292 103h47M293 104h47M289 105h49M290 106h49M290 107h50M284 108h55M285 109h55M285 110h56M283 111h56M284 112h56M284 113h57M280 114h59M280 115h60M280 116h60M276 117h26M276 118h27M276 119h27M274 120h22M275 121h22M275 122h22M270 123h25M270 124h25M271 125h25M271 126h25M268 127h23M269 128h22M269 129h23M264 130h23M264 131h23M264 132h23M262 133h23M262 134h23M262 135h23M260 136h20M260 137h20M260 138h21M257 139h21M257 140h21M257 141h21M255 142h21M255 143h21M255 144h21M255 145h21M252 146h19M252 147h19M252 148h19M247 149h21M247 150h21M247 151h21M242 152h24M242 153h24M242 154h24M239 155h27M239 156h27M239 157h27M239 158h27M242 159h21M242 160h21M242 161h21M245 162h18M245 163h18M245 164h18M247 165h13M247 166h13M247 167h13M250 168h7M250 169h7M249 170h8M249 171h8M252 172h3M252 173h2M252 174h2"/>
</g>
<path d="M146.0 241.0L140.5 239.4L135.2 237.7L130.3 236.0L125.5 234.2L121.0 232.3L116.7 230.4L112.5 228.4L108.6 226.4L104.8 224.4L101.2 222.3L97.7 220.2L94.4 218.0L91.3 215.8L88.3 213.6L85.4 211.3L82.7 209.1L80.1 206.7L77.6 204.4L75.3 202.0L73.1 199.6L71.0 197.2L69.1 194.8L67.3 192.3L65.6 189.9L64.0 187.4L62.6 184.9L61.3 182.4L60.1 179.8L59.0 177.3L58.0 174.7L57.2 172.2L56.5 169.6L55.9 167.0L55.4 164.5L55.0 161.9L54.8 159.3L54.7 156.7L54.7 154.1L54.8 151.5L55.0 148.9L55.4 146.3L55.9 143.8L56.5 141.2L57.2 138.6L58.0 136.1L59.0 133.5L60.1 131.0L61.3 128.4L62.6 125.9L64.0 123.4L65.6 120.9L67.3 118.5L69.1 116.0L71.0 113.6L73.1 111.2L75.3 108.8L77.6 106.4L80.1 104.1L82.7 101.7L85.4 99.5L88.3 97.2L91.3 95.0L94.4 92.8L97.7 90.6L101.2 88.5L104.8 86.4L108.6 84.4L112.5 82.4L116.7 80.4L121.0 78.5L125.5 76.6L130.3 74.8L135.2 73.1L140.5 71.4L146.0 69.8M159.4 241.0L155.0 239.4L150.8 237.7L146.8 236.0L143.0 234.2L139.4 232.3L135.9 230.4L132.6 228.4L129.5 226.4L126.4 224.4L123.6 222.3L120.8 220.2L118.1 218.0L115.6 215.8L113.2 213.6L110.9 211.3L108.7 209.1L106.7 206.7L104.7 204.4L102.8 202.0L101.1 199.6L99.4 197.2L97.9 194.8L96.4 192.3L95.1 189.9L93.8 187.4L92.7 184.9L91.6 182.4L90.6 179.8L89.8 177.3L89.0 174.7L88.3 172.2L87.8 169.6L87.3 167.0L86.9 164.5L86.6 161.9L86.4 159.3L86.3 156.7L86.3 154.1L86.4 151.5L86.6 148.9L86.9 146.3L87.3 143.8L87.8 141.2L88.3 138.6L89.0 136.1L89.8 133.5L90.6 131.0L91.6 128.4L92.7 125.9L93.8 123.4L95.1 120.9L96.4 118.5L97.9 116.0L99.4 113.6L101.1 111.2L102.8 108.8L104.7 106.4L106.7 104.1L108.7 101.7L110.9 99.5L113.2 97.2L115.6 95.0L118.1 92.8L120.8 90.6L123.6 88.5L126.4 86.4L129.5 84.4L132.6 82.4L135.9 80.4L139.4 78.5L143.0 76.6L146.8 74.8L150.8 73.1L155.0 71.4L159.4 69.8M172.8 241.0L169.5 239.4L166.3 237.7L163.4 236.0L160.5 234.2L157.8 232.3L155.2 230.4L152.7 228.4L150.4 226.4L148.1 224.4L145.9 222.3L143.8 220.2L141.9 218.0L140.0 215.8L138.2 213.6L136.4 211.3L134.8 209.1L133.2 206.7L131.8 204.4L130.4 202.0L129.1 199.6L127.8 197.2L126.7 194.8L125.6 192.3L124.5 189.9L123.6 187.4L122.7 184.9L122.0 182.4L121.2 179.8L120.6 177.3L120.0 174.7L119.5 172.2L119.1 169.6L118.7 167.0L118.4 164.5L118.2 161.9L118.1 159.3L118.0 156.7L118.0 154.1L118.1 151.5L118.2 148.9L118.4 146.3L118.7 143.8L119.1 141.2L119.5 138.6L120.0 136.1L120.6 133.5L121.2 131.0L122.0 128.4L122.7 125.9L123.6 123.4L124.5 120.9L125.6 118.5L126.7 116.0L127.8 113.6L129.1 111.2L130.4 108.8L131.8 106.4L133.2 104.1L134.8 101.7L136.4 99.5L138.2 97.2L140.0 95.0L141.9 92.8L143.8 90.6L145.9 88.5L148.1 86.4L150.4 84.4L152.7 82.4L155.2 80.4L157.8 78.5L160.5 76.6L163.4 74.8L166.3 73.1L169.5 71.4L172.8 69.8M186.2 241.0L184.0 239.4L181.9 237.7L179.9 236.0L178.0 234.2L176.2 232.3L174.5 230.4L172.8 228.4L171.2 226.4L169.7 224.4L168.3 222.3L166.9 220.2L165.6 218.0L164.3 215.8L163.1 213.6L162.0 211.3L160.9 209.1L159.8 206.7L158.8 204.4L157.9 202.0L157.0 199.6L156.2 197.2L155.4 194.8L154.7 192.3L154.0 189.9L153.4 187.4L152.8 184.9L152.3 182.4L151.8 179.8L151.4 177.3L151.0 174.7L150.7 172.2L150.4 169.6L150.1 167.0L150.0 164.5L149.8 161.9L149.7 159.3L149.7 156.7L149.7 154.1L149.7 151.5L149.8 148.9L150.0 146.3L150.1 143.8L150.4 141.2L150.7 138.6L151.0 136.1L151.4 133.5L151.8 131.0L152.3 128.4L152.8 125.9L153.4 123.4L154.0 120.9L154.7 118.5L155.4 116.0L156.2 113.6L157.0 111.2L157.9 108.8L158.8 106.4L159.8 104.1L160.9 101.7L162.0 99.5L163.1 97.2L164.3 95.0L165.6 92.8L166.9 90.6L168.3 88.5L169.7 86.4L171.2 84.4L172.8 82.4L174.5 80.4L176.2 78.5L178.0 76.6L179.9 74.8L181.9 73.1L184.0 71.4L186.2 69.8M199.6 241.0L198.5 239.4L197.4 237.7L196.5 236.0L195.5 234.2L194.6 232.3L193.7 230.4L192.9 228.4L192.1 226.4L191.4 224.4L190.6 222.3L189.9 220.2L189.3 218.0L188.7 215.8L188.1 213.6L187.5 211.3L186.9 209.1L186.4 206.7L185.9 204.4L185.5 202.0L185.0 199.6L184.6 197.2L184.2 194.8L183.9 192.3L183.5 189.9L183.2 187.4L182.9 184.9L182.7 182.4L182.4 179.8L182.2 177.3L182.0 174.7L181.8 172.2L181.7 169.6L181.6 167.0L181.5 164.5L181.4 161.9L181.4 159.3L181.3 156.7L181.3 154.1L181.4 151.5L181.4 148.9L181.5 146.3L181.6 143.8L181.7 141.2L181.8 138.6L182.0 136.1L182.2 133.5L182.4 131.0L182.7 128.4L182.9 125.9L183.2 123.4L183.5 120.9L183.9 118.5L184.2 116.0L184.6 113.6L185.0 111.2L185.5 108.8L185.9 106.4L186.4 104.1L186.9 101.7L187.5 99.5L188.1 97.2L188.7 95.0L189.3 92.8L189.9 90.6L190.6 88.5L191.4 86.4L192.1 84.4L192.9 82.4L193.7 80.4L194.6 78.5L195.5 76.6L196.5 74.8L197.4 73.1L198.5 71.4L199.6 69.8M213.0 241.0L213.0 239.4L213.0 237.7L213.0 236.0L213.0 234.2L213.0 232.3L213.0 230.4L213.0 228.4L213.0 226.4L213.0 224.4L213.0 222.3L213.0 220.2L213.0 218.0L213.0 215.8L213.0 213.6L213.0 211.3L213.0 209.1L213.0 206.7L213.0 204.4L213.0 202.0L213.0 199.6L213.0 197.2L213.0 194.8L213.0 192.3L213.0 189.9L213.0 187.4L213.0 184.9L213.0 182.4L213.0 179.8L213.0 177.3L213.0 174.7L213.0 172.2L213.0 169.6L213.0 167.0L213.0 164.5L213.0 161.9L213.0 159.3L213.0 156.7L213.0 154.1L213.0 151.5L213.0 148.9L213.0 146.3L213.0 143.8L213.0 141.2L213.0 138.6L213.0 136.1L213.0 133.5L213.0 131.0L213.0 128.4L213.0 125.9L213.0 123.4L213.0 120.9L213.0 118.5L213.0 116.0L213.0 113.6L213.0 111.2L213.0 108.8L213.0 106.4L213.0 104.1L213.0 101.7L213.0 99.5L213.0 97.2L213.0 95.0L213.0 92.8L213.0 90.6L213.0 88.5L213.0 86.4L213.0 84.4L213.0 82.4L213.0 80.4L213.0 78.5L213.0 76.6L213.0 74.8L213.0 73.1L213.0 71.4L213.0 69.8M226.4 241.0L227.5 239.4L228.6 237.7L229.5 236.0L230.5 234.2L231.4 232.3L232.3 230.4L233.1 228.4L233.9 226.4L234.6 224.4L235.4 222.3L236.1 220.2L236.7 218.0L237.3 215.8L237.9 213.6L238.5 211.3L239.1 209.1L239.6 206.7L240.1 204.4L240.5 202.0L241.0 199.6L241.4 197.2L241.8 194.8L242.1 192.3L242.5 189.9L242.8 187.4L243.1 184.9L243.3 182.4L243.6 179.8L243.8 177.3L244.0 174.7L244.2 172.2L244.3 169.6L244.4 167.0L244.5 164.5L244.6 161.9L244.6 159.3L244.7 156.7L244.7 154.1L244.6 151.5L244.6 148.9L244.5 146.3L244.4 143.8L244.3 141.2L244.2 138.6L244.0 136.1L243.8 133.5L243.6 131.0L243.3 128.4L243.1 125.9L242.8 123.4L242.5 120.9L242.1 118.5L241.8 116.0L241.4 113.6L241.0 111.2L240.5 108.8L240.1 106.4L239.6 104.1L239.1 101.7L238.5 99.5L237.9 97.2L237.3 95.0L236.7 92.8L236.1 90.6L235.4 88.5L234.6 86.4L233.9 84.4L233.1 82.4L232.3 80.4L231.4 78.5L230.5 76.6L229.5 74.8L228.6 73.1L227.5 71.4L226.4 69.8M239.8 241.0L242.0 239.4L244.1 237.7L246.1 236.0L248.0 234.2L249.8 232.3L251.5 230.4L253.2 228.4L254.8 226.4L256.3 224.4L257.7 222.3L259.1 220.2L260.4 218.0L261.7 215.8L262.9 213.6L264.0 211.3L265.1 209.1L266.2 206.7L267.2 204.4L268.1 202.0L269.0 199.6L269.8 197.2L270.6 194.8L271.3 192.3L272.0 189.9L272.6 187.4L273.2 184.9L273.7 182.4L274.2 179.8L274.6 177.3L275.0 174.7L275.3 172.2L275.6 169.6L275.9 167.0L276.0 164.5L276.2 161.9L276.3 159.3L276.3 156.7L276.3 154.1L276.3 151.5L276.2 148.9L276.0 146.3L275.9 143.8L275.6 141.2L275.3 138.6L275.0 136.1L274.6 133.5L274.2 131.0L273.7 128.4L273.2 125.9L272.6 123.4L272.0 120.9L271.3 118.5L270.6 116.0L269.8 113.6L269.0 111.2L268.1 108.8L267.2 106.4L266.2 104.1L265.1 101.7L264.0 99.5L262.9 97.2L261.7 95.0L260.4 92.8L259.1 90.6L257.7 88.5L256.3 86.4L254.8 84.4L253.2 82.4L251.5 80.4L249.8 78.5L248.0 76.6L246.1 74.8L244.1 73.1L242.0 71.4L239.8 69.8M253.2 241.0L256.5 239.4L259.7 237.7L262.6 236.0L265.5 234.2L268.2 232.3L270.8 230.4L273.3 228.4L275.6 226.4L277.9 224.4L280.1 222.3L282.2 220.2L284.1 218.0L286.0 215.8L287.8 213.6L289.6 211.3L291.2 209.1L292.8 206.7L294.2 204.4L295.6 202.0L296.9 199.6L298.2 197.2L299.3 194.8L300.4 192.3L301.5 189.9L302.4 187.4L303.3 184.9L304.0 182.4L304.8 179.8L305.4 177.3L306.0 174.7L306.5 172.2L306.9 169.6L307.3 167.0L307.6 164.5L307.8 161.9L307.9 159.3L308.0 156.7L308.0 154.1L307.9 151.5L307.8 148.9L307.6 146.3L307.3 143.8L306.9 141.2L306.5 138.6L306.0 136.1L305.4 133.5L304.8 131.0L304.0 128.4L303.3 125.9L302.4 123.4L301.5 120.9L300.4 118.5L299.3 116.0L298.2 113.6L296.9 111.2L295.6 108.8L294.2 106.4L292.8 104.1L291.2 101.7L289.6 99.5L287.8 97.2L286.0 95.0L284.1 92.8L282.2 90.6L280.1 88.5L277.9 86.4L275.6 84.4L273.3 82.4L270.8 80.4L268.2 78.5L265.5 76.6L262.6 74.8L259.7 73.1L256.5 71.4L253.2 69.8M266.6 241.0L271.0 239.4L275.2 237.7L279.2 236.0L283.0 234.2L286.6 232.3L290.1 230.4L293.4 228.4L296.5 226.4L299.6 224.4L302.4 222.3L305.2 220.2L307.9 218.0L310.4 215.8L312.8 213.6L315.1 211.3L317.3 209.1L319.3 206.7L321.3 204.4L323.2 202.0L324.9 199.6L326.6 197.2L328.1 194.8L329.6 192.3L330.9 189.9L332.2 187.4L333.3 184.9L334.4 182.4L335.4 179.8L336.2 177.3L337.0 174.7L337.7 172.2L338.2 169.6L338.7 167.0L339.1 164.5L339.4 161.9L339.6 159.3L339.7 156.7L339.7 154.1L339.6 151.5L339.4 148.9L339.1 146.3L338.7 143.8L338.2 141.2L337.7 138.6L337.0 136.1L336.2 133.5L335.4 131.0L334.4 128.4L333.3 125.9L332.2 123.4L330.9 120.9L329.6 118.5L328.1 116.0L326.6 113.6L324.9 111.2L323.2 108.8L321.3 106.4L319.3 104.1L317.3 101.7L315.1 99.5L312.8 97.2L310.4 95.0L307.9 92.8L305.2 90.6L302.4 88.5L299.6 86.4L296.5 84.4L293.4 82.4L290.1 80.4L286.6 78.5L283.0 76.6L279.2 74.8L275.2 73.1L271.0 71.4L266.6 69.8M280.0 241.0L285.5 239.4L290.8 237.7L295.7 236.0L300.5 234.2L305.0 232.3L309.3 230.4L313.5 228.4L317.4 226.4L321.2 224.4L324.8 222.3L328.3 220.2L331.6 218.0L334.7 215.8L337.7 213.6L340.6 211.3L343.3 209.1L345.9 206.7L348.4 204.4L350.7 202.0L352.9 199.6L355.0 197.2L356.9 194.8L358.7 192.3L360.4 189.9L362.0 187.4L363.4 184.9L364.7 182.4L365.9 179.8L367.0 177.3L368.0 174.7L368.8 172.2L369.5 169.6L370.1 167.0L370.6 164.5L371.0 161.9L371.2 159.3L371.3 156.7L371.3 154.1L371.2 151.5L371.0 148.9L370.6 146.3L370.1 143.8L369.5 141.2L368.8 138.6L368.0 136.1L367.0 133.5L365.9 131.0L364.7 128.4L363.4 125.9L362.0 123.4L360.4 120.9L358.7 118.5L356.9 116.0L355.0 113.6L352.9 111.2L350.7 108.8L348.4 106.4L345.9 104.1L343.3 101.7L340.6 99.5L337.7 97.2L334.7 95.0L331.6 92.8L328.3 90.6L324.8 88.5L321.2 86.4L317.4 84.4L313.5 82.4L309.3 80.4L305.0 78.5L300.5 76.6L295.7 74.8L290.8 73.1L285.5 71.4L280.0 69.8M132.6 241.0 H293.4M90.0 227.4 H336.0M59.9 211.3 H366.1M39.2 193.6 H386.8M27.0 174.7 H399.0M23.0 155.4 H403.0M27.0 136.1 H399.0M39.2 117.2 H386.8M59.9 99.5 H366.1M90.0 83.4 H336.0M132.6 69.8 H293.4" fill="none" stroke="#f0d8f4" stroke-opacity="0.34" stroke-width="0.9" clip-path="url(#ec)"/>
<text x="42.43" y="151.50" font-size="9.80" text-anchor="start" letter-spacing="0.389" fill="#220a20" stroke="#220a20" stroke-width="0.1">-150°</text>
<text x="74.09" y="151.50" font-size="9.80" text-anchor="start" letter-spacing="0.389" fill="#220a20" stroke="#220a20" stroke-width="0.1">-120°</text>
<text x="108.69" y="151.50" font-size="9.80" text-anchor="start" letter-spacing="0.386" fill="#220a20" stroke="#220a20" stroke-width="0.1">-90°</text>
<text x="140.35" y="151.50" font-size="9.80" text-anchor="start" letter-spacing="0.386" fill="#220a20" stroke="#220a20" stroke-width="0.1">-60°</text>
<text x="172.02" y="151.50" font-size="9.80" text-anchor="start" letter-spacing="0.386" fill="#220a20" stroke="#220a20" stroke-width="0.1">-30°</text>
<text x="208.27" y="151.50" font-size="9.80" text-anchor="start" letter-spacing="0.542" fill="#220a20" stroke="#220a20" stroke-width="0.1">0°</text>
<text x="237.01" y="151.50" font-size="9.80" text-anchor="start" letter-spacing="0.496" fill="#220a20" stroke="#220a20" stroke-width="0.1">30°</text>
<text x="268.68" y="151.50" font-size="9.80" text-anchor="start" letter-spacing="0.496" fill="#220a20" stroke="#220a20" stroke-width="0.1">60°</text>
<text x="300.35" y="151.50" font-size="9.80" text-anchor="start" letter-spacing="0.496" fill="#220a20" stroke="#220a20" stroke-width="0.1">90°</text>
<text x="329.09" y="151.50" font-size="9.80" text-anchor="start" letter-spacing="0.472" fill="#220a20" stroke="#220a20" stroke-width="0.1">120°</text>
<text x="360.75" y="151.50" font-size="9.80" text-anchor="start" letter-spacing="0.472" fill="#220a20" stroke="#220a20" stroke-width="0.1">150°</text>
<g fill="none" stroke="#3fdedd" stroke-width="2.5" stroke-linejoin="round" clip-path="url(#ec)">
<path d="M47.3 113.0L69.0 149.0L68.3 154.0L61.6 167.5L56.5 167.5L27.8 136.0L28.8 133.8L29.9 131.7L31.1 129.5L32.3 127.4L33.7 125.3L35.2 123.2L36.7 121.1L38.4 119.1L40.2 117.0L42.0 115.0L44.0 113.0Z"/>
<path d="M138.2 182.8L152.6 183.9L170.9 186.7L183.8 189.8L193.0 194.4L200.3 204.5L201.2 208.2L195.7 217.4L185.6 223.8L174.6 224.7L159.9 221.9L143.4 217.4L139.7 213.1L136.9 198.1L136.9 187.0Z"/>
<path d="M372.7 112.7L377.9 110.6L384.2 116.0L390.2 123.6L395.8 132.3L394.3 134.2L388.0 130.2L381.8 126.0L376.8 119.6L372.9 115.2Z"/>
</g>
<ellipse cx="213" cy="155.4" rx="190" ry="94.5" fill="none" stroke="#000" stroke-width="1.2"/>
<text x="112.65" y="64.60" font-size="9.70" text-anchor="start" letter-spacing="0.428" fill="#222" stroke="#222" stroke-width="0.2">75°</text>
<text x="70.15" y="79.60" font-size="9.70" text-anchor="start" letter-spacing="0.428" fill="#222" stroke="#222" stroke-width="0.2">60°</text>
<text x="40.35" y="96.90" font-size="9.70" text-anchor="start" letter-spacing="0.428" fill="#222" stroke="#222" stroke-width="0.2">45°</text>
<text x="19.25" y="116.80" font-size="9.70" text-anchor="start" letter-spacing="0.428" fill="#222" stroke="#222" stroke-width="0.2">30°</text>
<text x="6.55" y="137.60" font-size="9.70" text-anchor="start" letter-spacing="0.428" fill="#222" stroke="#222" stroke-width="0.2">15°</text>
<text x="8.07" y="158.90" font-size="9.70" text-anchor="start" letter-spacing="0.476" fill="#222" stroke="#222" stroke-width="0.2">0°</text>
<text x="4.40" y="180.00" font-size="9.70" text-anchor="start" letter-spacing="0.325" fill="#222" stroke="#222" stroke-width="0.2">-15°</text>
<text x="16.10" y="201.40" font-size="9.70" text-anchor="start" letter-spacing="0.325" fill="#222" stroke="#222" stroke-width="0.2">-30°</text>
<text x="37.50" y="220.60" font-size="9.70" text-anchor="start" letter-spacing="0.325" fill="#222" stroke="#222" stroke-width="0.2">-45°</text>
<text x="66.40" y="238.50" font-size="9.70" text-anchor="start" letter-spacing="0.325" fill="#222" stroke="#222" stroke-width="0.2">-60°</text>
<text x="109.80" y="253.30" font-size="9.70" text-anchor="start" letter-spacing="0.325" fill="#222" stroke="#222" stroke-width="0.2">-75°</text>
<text x="160.35" y="50.60" font-size="15.50" text-anchor="start" letter-spacing="0.260" fill="#111" >TES resolution</text>
<text x="487.15" y="13.50" font-size="15.60" text-anchor="start" letter-spacing="0.680" fill="#111" >Cumulative resolution</text>
<rect x="76" y="325.6" width="273.7" height="22.4" fill="url(#cb)" stroke="#3a3a3a" stroke-width="0.7"/>
<path d="M76.0 348v2.8" stroke="#222" stroke-width="0.8"/>
<text x="65.31" y="360.30" font-size="10.10" text-anchor="start" letter-spacing="0.429" fill="#222" >1.00</text>
<path d="M167.2 348v2.8" stroke="#222" stroke-width="0.8"/>
<text x="153.49" y="360.30" font-size="10.10" text-anchor="start" letter-spacing="0.442" fill="#222" >10.00</text>
<path d="M258.5 348v2.8" stroke="#222" stroke-width="0.8"/>
<text x="241.67" y="360.30" font-size="10.10" text-anchor="start" letter-spacing="0.450" fill="#222" >100.00</text>
<path d="M349.7 348v2.8" stroke="#222" stroke-width="0.8"/>
<text x="329.85" y="360.30" font-size="10.10" text-anchor="start" letter-spacing="0.456" fill="#222" >1000.00</text>
<text x="164.55" y="375.30" font-size="16.00" text-anchor="start" letter-spacing="0.569" fill="#111" >log(res) [km]</text>
<rect x="463.6" y="16.5" width="210.5" height="320.5" fill="#fff" stroke="#000" stroke-width="1.15"/>
<path d="M463.60 337.0v3.5M498.68 337.0v3.5M533.77 337.0v3.5M568.85 337.0v3.5M603.93 337.0v3.5M639.02 337.0v3.5M674.10 337.0v3.5M463.6 337.00h-3.5M463.6 268.75h-3.5M463.6 200.50h-3.5M463.6 132.25h-3.5M463.6 64.00h-3.5" stroke="#000" stroke-width="1.1" fill="none"/>
<path d="M474.16 337.0v2.3M480.34 337.0v2.3M484.72 337.0v2.3M488.12 337.0v2.3M490.90 337.0v2.3M493.25 337.0v2.3M495.28 337.0v2.3M497.08 337.0v2.3M509.24 337.0v2.3M515.42 337.0v2.3M519.81 337.0v2.3M523.21 337.0v2.3M525.98 337.0v2.3M528.33 337.0v2.3M530.37 337.0v2.3M532.16 337.0v2.3M544.33 337.0v2.3M550.51 337.0v2.3M554.89 337.0v2.3M558.29 337.0v2.3M561.07 337.0v2.3M563.42 337.0v2.3M565.45 337.0v2.3M567.24 337.0v2.3M579.41 337.0v2.3M585.59 337.0v2.3M589.97 337.0v2.3M593.37 337.0v2.3M596.15 337.0v2.3M598.50 337.0v2.3M600.53 337.0v2.3M602.33 337.0v2.3M614.49 337.0v2.3M620.67 337.0v2.3M625.06 337.0v2.3M628.46 337.0v2.3M631.23 337.0v2.3M633.58 337.0v2.3M635.62 337.0v2.3M637.41 337.0v2.3M649.58 337.0v2.3M655.76 337.0v2.3M660.14 337.0v2.3M663.54 337.0v2.3M666.32 337.0v2.3M668.67 337.0v2.3M670.70 337.0v2.3M672.49 337.0v2.3M463.6 316.45h-2.3M463.6 304.44h-2.3M463.6 295.91h-2.3M463.6 289.30h-2.3M463.6 283.89h-2.3M463.6 279.32h-2.3M463.6 275.36h-2.3M463.6 271.87h-2.3M463.6 248.20h-2.3M463.6 236.19h-2.3M463.6 227.66h-2.3M463.6 221.05h-2.3M463.6 215.64h-2.3M463.6 211.07h-2.3M463.6 207.11h-2.3M463.6 203.62h-2.3M463.6 179.95h-2.3M463.6 167.94h-2.3M463.6 159.41h-2.3M463.6 152.80h-2.3M463.6 147.39h-2.3M463.6 142.82h-2.3M463.6 138.86h-2.3M463.6 135.37h-2.3M463.6 111.70h-2.3M463.6 99.69h-2.3M463.6 91.16h-2.3M463.6 84.55h-2.3M463.6 79.14h-2.3M463.6 74.57h-2.3M463.6 70.61h-2.3M463.6 67.12h-2.3M463.6 43.45h-2.3M463.6 31.44h-2.3M463.6 22.91h-2.3" stroke="#000" stroke-width="0.9" fill="none"/>
<text x="456.60" y="351.60" font-size="9.8" letter-spacing="0.3" fill="#1a1a1a" stroke="#1a1a1a" stroke-width="0.15">10<tspan font-size="6.8" dy="-2.9" letter-spacing="0">0</tspan></text>
<text x="491.68" y="351.60" font-size="9.8" letter-spacing="0.3" fill="#1a1a1a" stroke="#1a1a1a" stroke-width="0.15">10<tspan font-size="6.8" dy="-2.9" letter-spacing="0">1</tspan></text>
<text x="526.77" y="351.60" font-size="9.8" letter-spacing="0.3" fill="#1a1a1a" stroke="#1a1a1a" stroke-width="0.15">10<tspan font-size="6.8" dy="-2.9" letter-spacing="0">2</tspan></text>
<text x="561.85" y="351.60" font-size="9.8" letter-spacing="0.3" fill="#1a1a1a" stroke="#1a1a1a" stroke-width="0.15">10<tspan font-size="6.8" dy="-2.9" letter-spacing="0">3</tspan></text>
<text x="596.93" y="351.60" font-size="9.8" letter-spacing="0.3" fill="#1a1a1a" stroke="#1a1a1a" stroke-width="0.15">10<tspan font-size="6.8" dy="-2.9" letter-spacing="0">4</tspan></text>
<text x="632.02" y="351.60" font-size="9.8" letter-spacing="0.3" fill="#1a1a1a" stroke="#1a1a1a" stroke-width="0.15">10<tspan font-size="6.8" dy="-2.9" letter-spacing="0">5</tspan></text>
<text x="667.10" y="351.60" font-size="9.8" letter-spacing="0.3" fill="#1a1a1a" stroke="#1a1a1a" stroke-width="0.15">10<tspan font-size="6.8" dy="-2.9" letter-spacing="0">6</tspan></text>
<text x="442.20" y="341.70" font-size="9.8" letter-spacing="0.3" fill="#1a1a1a" stroke="#1a1a1a" stroke-width="0.15">10<tspan font-size="6.8" dy="-2.9" letter-spacing="0">0</tspan></text>
<text x="442.20" y="273.45" font-size="9.8" letter-spacing="0.3" fill="#1a1a1a" stroke="#1a1a1a" stroke-width="0.15">10<tspan font-size="6.8" dy="-2.9" letter-spacing="0">1</tspan></text>
<text x="442.20" y="205.20" font-size="9.8" letter-spacing="0.3" fill="#1a1a1a" stroke="#1a1a1a" stroke-width="0.15">10<tspan font-size="6.8" dy="-2.9" letter-spacing="0">2</tspan></text>
<text x="442.20" y="136.95" font-size="9.8" letter-spacing="0.3" fill="#1a1a1a" stroke="#1a1a1a" stroke-width="0.15">10<tspan font-size="6.8" dy="-2.9" letter-spacing="0">3</tspan></text>
<text x="442.20" y="68.70" font-size="9.8" letter-spacing="0.3" fill="#1a1a1a" stroke="#1a1a1a" stroke-width="0.15">10<tspan font-size="6.8" dy="-2.9" letter-spacing="0">4</tspan></text>
<text x="524.25" y="365.50" font-size="12.60" text-anchor="start" letter-spacing="0.712" fill="#111" >Resolution [m]</text>
<text transform="translate(433.5,176) rotate(-90)" text-anchor="middle" font-size="12.6" letter-spacing="0.75" fill="#111">Area [<tspan font-style="italic">km</tspan><tspan font-size="8.8" dy="-4.6">2</tspan><tspan dy="4.6">]</tspan></text>
<rect x="469.3" y="22" width="59.8" height="18.3" rx="2" fill="#fff" stroke="#dadada" stroke-width="0.8"/>
<path d="M473.5 30.6H495.5" stroke="#111" stroke-width="1.3"/>
<text x="505.00" y="34.60" font-size="10.60" text-anchor="start" letter-spacing="0.407" fill="#111" >Flat</text>
<path d="M597.2 337.0L597.4 220.0L597.7 200.8L598.3 185.0L599.9 169.3L602.4 156.7L604.6 153.5L605.3 131.5L609.4 128.3L613.5 123.6L613.5 109.4L617.2 106.3L622.0 101.6L625.1 94.6L629.3 82.0L631.4 69.4L632.5 60.6L649.3 60.6L657.7 60.0L664.0 57.8L667.1 56.4L674.1 56.4" fill="none" stroke="#111" stroke-width="1.2" stroke-linejoin="round"/>
</svg>
</body></html>
